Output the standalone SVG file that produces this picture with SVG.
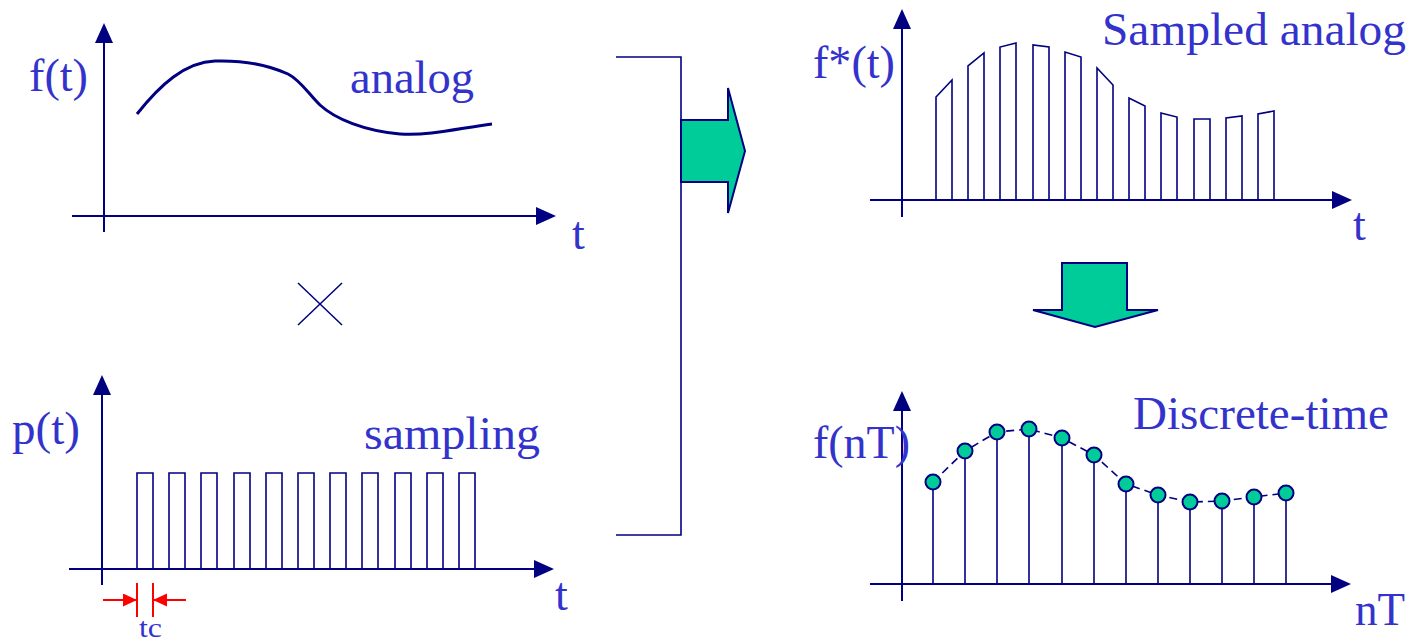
<svg xmlns="http://www.w3.org/2000/svg" width="1415" height="643" viewBox="0 0 1415 643">
<style>
.ax{stroke:#000080;stroke-width:2;fill:none}
.ln{stroke:#000080;stroke-width:1.6;fill:none}
.lbl{font-family:"Liberation Serif","Times New Roman",serif;fill:#3333CC;font-size:46px}
.red{stroke:#FF0000;stroke-width:2;fill:none}
.grn{fill:#00CC99;stroke:#000080;stroke-width:2;stroke-linejoin:miter}
.dot{fill:#00CC99;stroke:#000080;stroke-width:2}
</style>
<defs>
<marker id="ah" markerUnits="userSpaceOnUse" markerWidth="20" markerHeight="20" refX="18" refY="9" orient="auto">
<path d="M0,0 L20,9 L0,18 z" fill="#000080"/>
</marker>
<marker id="rh" markerUnits="userSpaceOnUse" markerWidth="14" markerHeight="14" refX="13" refY="6.5" orient="auto">
<path d="M0,0 L14,6.5 L0,13 z" fill="#FF0000"/>
</marker>
</defs>
<rect width="1415" height="643" fill="#FFFFFF"/>

<g id="analog-graph">
<line class="ax" x1="104" y1="232" x2="104" y2="25" marker-end="url(#ah)"/>
<line class="ax" x1="72" y1="216" x2="554" y2="216" marker-end="url(#ah)"/>
<path d="M137,114 C160,85 185,62 215,61 C245,60 270,66 288,74 C300,80 308,93 320,105 C335,119 365,131 400,134 C430,136 460,128 492,124" stroke="#000080" stroke-width="3" fill="none"/>
<text class="lbl" x="29" y="91" textLength="59" lengthAdjust="spacingAndGlyphs">f(t)</text>
<text class="lbl" x="350" y="93" textLength="124" lengthAdjust="spacingAndGlyphs">analog</text>
<text class="lbl" x="572" y="249">t</text>
</g>

<g id="multiply">
<line x1="298" y1="283" x2="342" y2="325" stroke="#000080" stroke-width="1.5"/>
<line x1="298" y1="325" x2="342" y2="283" stroke="#000080" stroke-width="1.5"/>
</g>

<g id="sampling-graph">
<line class="ax" x1="102" y1="585" x2="102" y2="377" marker-end="url(#ah)"/>
<line class="ax" x1="69" y1="569" x2="552" y2="569" marker-end="url(#ah)"/>
<path class="ln" d="M137,569 V473 H153 V569 M169,569 V473 H185 V569 M201,569 V473 H217 V569 M234,569 V473 H250 V569 M266,569 V473 H282 V569 M298,569 V473 H314 V569 M330,569 V473 H346 V569 M362,569 V473 H378 V569 M395,569 V473 H411 V569 M427,569 V473 H443 V569 M459,569 V473 H475 V569"/>
<text class="lbl" x="12" y="444" textLength="68" lengthAdjust="spacingAndGlyphs">p(t)</text>
<text class="lbl" x="364" y="449" textLength="176" lengthAdjust="spacingAndGlyphs">sampling</text>
<text class="lbl" x="555" y="610">t</text>
</g>

<g id="tc-marker">
<line class="red" x1="137" y1="583" x2="137" y2="617"/>
<line class="red" x1="153" y1="583" x2="153" y2="617"/>
<line class="red" x1="103" y1="600" x2="136" y2="600" marker-end="url(#rh)"/>
<line class="red" x1="186" y1="600" x2="154" y2="600" marker-end="url(#rh)"/>
<text x="139" y="637" font-family="Liberation Serif, Times New Roman, serif" font-size="27" fill="#3333CC" textLength="23" lengthAdjust="spacingAndGlyphs">tc</text>
</g>

<g id="bracket-arrow">
<polyline class="ln" points="616,57 681,57 681,535 616,535"/>
<polygon class="grn" points="681,120 728,120 728,88 745,151 728,213 728,182 681,182"/>
</g>

<g id="sampled-graph">
<line class="ax" x1="902" y1="217" x2="902" y2="11" marker-end="url(#ah)"/>
<line class="ax" x1="870" y1="200" x2="1350" y2="200" marker-end="url(#ah)"/>
<path class="ln" d="M936,200 V97 L952,80 V200 M968,200 V66 L984,53 V200 M1000,200 V47 L1016,43 V200 M1033,200 V45 L1049,47 V200 M1065,200 V52 L1081,57 V200 M1097,200 V68 L1113,85 V200 M1129,200 V98 L1145,106 V200 M1161,200 V113 L1177,117 V200 M1194,200 V119 L1210,119 V200 M1226,200 V118 L1242,116 V200 M1258,200 V114 L1274,111 V200"/>
<text class="lbl" x="813" y="78" textLength="82" lengthAdjust="spacingAndGlyphs">f*(t)</text>
<text class="lbl" x="1102" y="45" textLength="304" lengthAdjust="spacingAndGlyphs">Sampled analog</text>
<text class="lbl" x="1353" y="240">t</text>
</g>

<g id="down-arrow">
<polygon class="grn" points="1062,263 1127,263 1127,310 1158,310 1095,327 1033,310 1062,310"/>
</g>

<g id="discrete-graph">
<line class="ax" x1="902" y1="601" x2="902" y2="393" marker-end="url(#ah)"/>
<line class="ax" x1="870" y1="584" x2="1349" y2="584" marker-end="url(#ah)"/>
<path class="ln" d="M933,584 V482 M965,584 V451 M997,584 V432 M1029,584 V429 M1062,584 V438 M1094,584 V455 M1126,584 V484 M1158,584 V495 M1190,584 V502 M1222,584 V501 M1254,584 V497 M1286,584 V493"/>
<polyline points="933,482 965,451 997,432 1029,429 1062,438 1094,455 1126,484 1158,495 1190,502 1222,501 1254,497 1286,493" fill="none" stroke="#000080" stroke-width="1.6" stroke-dasharray="8,5"/>
<circle class="dot" cx="933" cy="482" r="7.5"/>
<circle class="dot" cx="965" cy="451" r="7.5"/>
<circle class="dot" cx="997" cy="432" r="7.5"/>
<circle class="dot" cx="1029" cy="429" r="7.5"/>
<circle class="dot" cx="1062" cy="438" r="7.5"/>
<circle class="dot" cx="1094" cy="455" r="7.5"/>
<circle class="dot" cx="1126" cy="484" r="7.5"/>
<circle class="dot" cx="1158" cy="495" r="7.5"/>
<circle class="dot" cx="1190" cy="502" r="7.5"/>
<circle class="dot" cx="1222" cy="501" r="7.5"/>
<circle class="dot" cx="1254" cy="497" r="7.5"/>
<circle class="dot" cx="1286" cy="493" r="7.5"/>
<text class="lbl" x="813" y="458" textLength="97" lengthAdjust="spacingAndGlyphs">f(nT)</text>
<text class="lbl" x="1133" y="429" textLength="256" lengthAdjust="spacingAndGlyphs">Discrete-time</text>
<text class="lbl" x="1355" y="625" textLength="50" lengthAdjust="spacingAndGlyphs">nT</text>
</g>
</svg>
